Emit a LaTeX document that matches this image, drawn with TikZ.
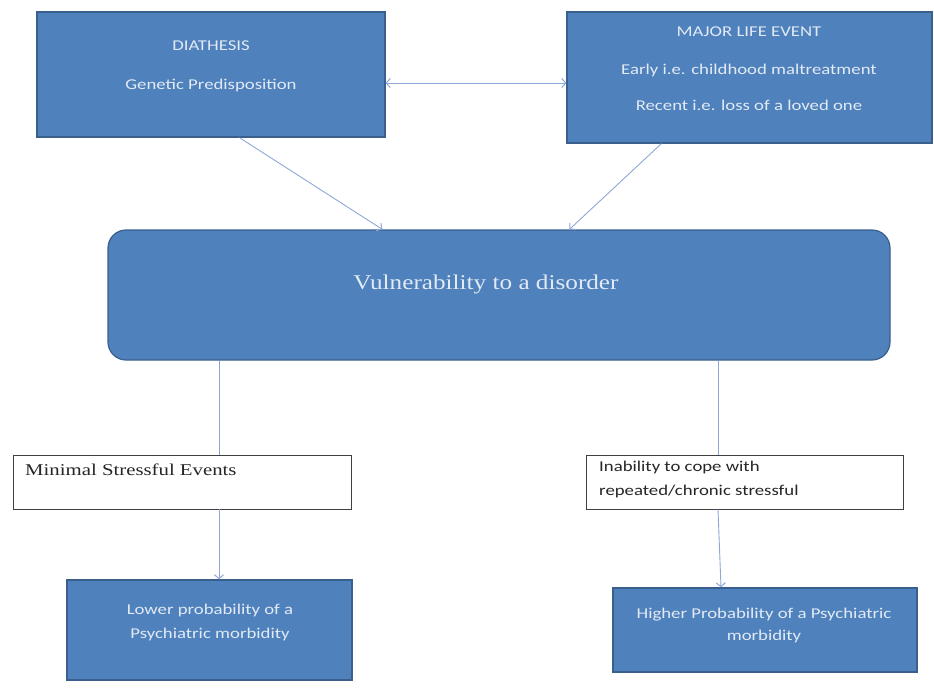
\documentclass[tikz,border=0pt]{standalone}
\usepackage{fontspec}
\usepackage{graphicx}
\setmainfont{Liberation Serif}
\newfontfamily\calfont{Carlito}
\usetikzlibrary{calc,arrows.meta}
\definecolor{bfill}{HTML}{4F81BD}
\definecolor{bdraw}{HTML}{3A5F8C}
\definecolor{btext}{HTML}{E2EAF4}
\definecolor{arrc}{HTML}{8EA8D6}
\newcommand\sxa[1]{\scalebox{1.25}[1]{#1}}
\newcommand\sxb[1]{\scalebox{1.2}[1]{#1}}
\tikzset{
  bluebox/.style={draw=bdraw, line width=1.2pt, fill=bfill, inner sep=0pt},
  whitebox/.style={draw=black!75, line width=0.9pt, fill=white, inner sep=0pt},
  btxt/.style={text=btext, font=\calfont\fontsize{15}{24}\selectfont, inner sep=0pt, align=center},
  wtxt/.style={text=black!85, inner sep=0pt, align=left, anchor=north west},
  conn/.style={draw=arrc, line width=0.9pt},
  tipb/.tip={Straight Barb[length=4pt,width=9pt,line width=1pt]},
  arr/.style={conn, -tipb},
  darr/.style={conn, tipb-tipb}
}
\begin{document}
\begin{tikzpicture}[x=1pt,y=-1pt]
\useasboundingbox (0,0) rectangle (934,691);
% boxes
\node[bluebox, minimum width=348pt, minimum height=125pt] (diath) at (211,74.5) {};
\node[bluebox, minimum width=365pt, minimum height=131pt] (major) at (749.5,77.5) {};
\node[bluebox, rounded corners=18pt, minimum width=782pt, minimum height=130pt] (vuln) at (499,295) {};
\node[whitebox, minimum width=338pt, minimum height=54pt] (minev) at (182,482) {};
\node[whitebox, minimum width=317pt, minimum height=54pt] (inab) at (744.5,482) {};
\node[bluebox, minimum width=285pt, minimum height=100pt] (lower) at (209.5,630) {};
\node[bluebox, minimum width=304pt, minimum height=84pt] (higher) at (765,630) {};
% texts
\node[btxt] (t1) at (211,46) {\sxa{DIATHESIS}};
\node[btxt] (t2) at (211,85) {\sxa{Genetic Predisposition}};
\node[btxt] (t3) at (749,32) {\sxa{MAJOR LIFE EVENT}};
\node[btxt] (t4) at (749,70) {\sxa{Early i.e. childhood maltreatment}};
\node[btxt] (t5) at (749,105) {\sxa{Recent i.e. loss of a loved one}};
\node[text=btext, inner sep=0pt, font=\fontsize{21}{24}\selectfont] (t6) at (486,284) {\sxb{Vulnerability to a disorder}};
\node[wtxt, font=\fontsize{16.5}{18}\selectfont] (t7) at (25,464) {\scalebox{1.26}[1]{Minimal Stressful Events}};
\node[wtxt, font=\calfont\fontsize{15}{23.5}\selectfont] (t8) at (599,461) {\sxa{Inability to cope with}\\\sxa{repeated/chronic stressful}};
\node[btxt] (t9) at (210,622) {\sxa{Lower probability of a}\\\sxa{Psychiatric morbidity}};
\node[btxt, font=\calfont\fontsize{15}{22}\selectfont] (t10) at (764,625) {\sxa{Higher Probability of a Psychiatric}\\\sxa{morbidity}};
% connectors
\coordinate (xl) at (219,0);
\coordinate (xr) at (718,0);
\coordinate (xr2) at (721,0);
\draw[darr] (diath.east |- 0,83) -- (major.west |- 0,83);
\draw[arr] ($(diath.south west)+(203,0)$) -- ($(vuln.north west)+(275,0)$);
\draw[arr] ($(major.south west)+(95,0)$) -- ($(vuln.north west)+(462,0)$);
\draw[conn] (vuln.south -| xl) -- (minev.north -| xl);
\draw[arr] (minev.south -| xl) -- (lower.north -| xl);
\draw[conn] (vuln.south -| xr) -- (inab.north -| xr);
\draw[arr] (inab.south -| xr) -- (higher.north -| xr2);
\end{tikzpicture}
\end{document}
